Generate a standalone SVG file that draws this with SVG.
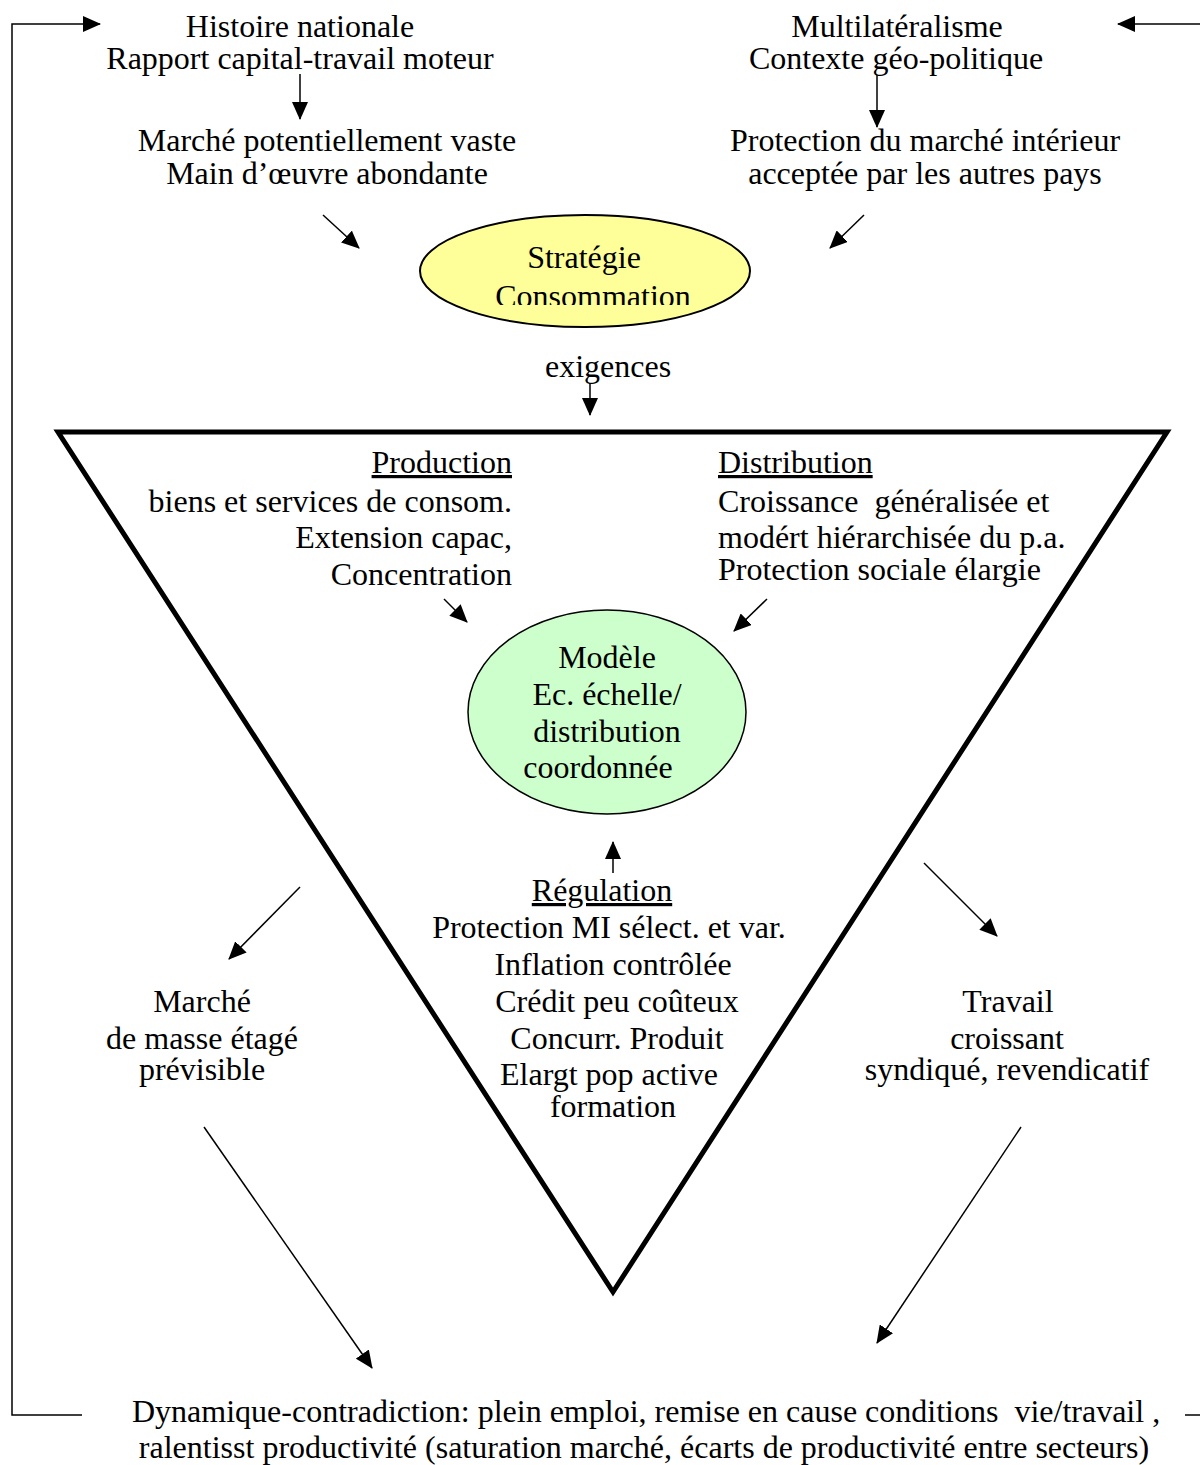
<svg xmlns="http://www.w3.org/2000/svg" width="1200" height="1465" viewBox="0 0 1200 1465">
<style>
text{font-family:"Liberation Serif","Times New Roman",serif;font-size:32px;fill:#000}
.c{text-anchor:middle}
.r{text-anchor:end}
.u{text-decoration:underline}
.ln{fill:none;stroke:#000;stroke-width:1.5}
.ar{fill:none;stroke:#000;stroke-width:1.5;marker-end:url(#ah)}
</style>
<defs>
<marker id="ah" markerUnits="userSpaceOnUse" viewBox="0 0 18 16" markerWidth="18" markerHeight="16" refX="17" refY="8" orient="auto">
<path d="M0,0 L18,8 L0,16 z" fill="#000"/>
</marker>
<clipPath id="clipY"><rect x="420" y="210" width="332" height="95"/></clipPath>
</defs>
<rect width="1200" height="1465" fill="#fff"/>

<g id="triangle">
<polygon points="58,432 1167,432 613,1292" fill="none" stroke="#000" stroke-width="5" stroke-linejoin="miter"/>
</g>

<g id="histoire">
<text class="c" x="300" y="37">Histoire nationale</text>
<text class="c" x="300" y="69">Rapport capital-travail moteur</text>
</g>
<g id="marche-potentiel">
<text class="c" x="327" y="151">Marché potentiellement vaste</text>
<text class="c" x="327" y="184">Main d’œuvre abondante</text>
</g>
<g id="multilateralisme">
<text class="c" x="897" y="37">Multilatéralisme</text>
<text class="c" x="896" y="69">Contexte géo-politique</text>
</g>
<g id="protection-marche">
<text class="c" x="925" y="151">Protection du marché intérieur</text>
<text class="c" x="925" y="184">acceptée par les autres pays</text>
</g>
<g id="strategie">
<ellipse cx="585" cy="271" rx="165" ry="56" fill="#FFFF99" stroke="#000" stroke-width="2"/>
<g clip-path="url(#clipY)">
<text class="c" x="584" y="268">Stratégie</text>
<text class="c" x="593" y="307">Consommation</text>
</g>
</g>
<g id="exigences">
<text class="c" x="608" y="377">exigences</text>
</g>
<g id="production">
<text class="r u" x="512" y="473">Production</text>
<text class="r" x="512" y="512">biens et services de consom.</text>
<text class="r" x="512" y="548">Extension capac,</text>
<text class="r" x="512" y="585">Concentration</text>
</g>
<g id="distribution">
<text x="718" y="473" class="u">Distribution</text>
<text x="718" y="512" xml:space="preserve">Croissance  généralisée et</text>
<text x="718" y="548">modért hiérarchisée du p.a.</text>
<text x="718" y="580">Protection sociale élargie</text>
</g>
<g id="modele">
<ellipse cx="607" cy="712" rx="139" ry="102" fill="#CCFFCC" stroke="#000" stroke-width="1.5"/>
<text class="c" x="607" y="668">Modèle</text>
<text class="c" x="607" y="705">Ec. échelle/</text>
<text class="c" x="607" y="742">distribution</text>
<text class="c" x="598" y="778">coordonnée</text>
</g>
<g id="regulation">
<text class="c u" x="602" y="901">Régulation</text>
<text class="c" x="609" y="938">Protection MI sélect. et var.</text>
<text class="c" x="613" y="975">Inflation contrôlée</text>
<text class="c" x="617" y="1012">Crédit peu coûteux</text>
<text class="c" x="617" y="1049">Concurr. Produit</text>
<text class="c" x="609" y="1085">Elargt pop active</text>
<text class="c" x="613" y="1117">formation</text>
</g>
<g id="marche-masse">
<text class="c" x="202" y="1012">Marché</text>
<text class="c" x="202" y="1049">de masse étagé</text>
<text class="c" x="202" y="1080">prévisible</text>
</g>
<g id="travail">
<text class="c" x="1008" y="1012">Travail</text>
<text class="c" x="1007" y="1049">croissant</text>
<text class="c" x="1007" y="1080">syndiqué, revendicatif</text>
</g>
<g id="dynamique">
<text x="132" y="1422" xml:space="preserve">Dynamique-contradiction: plein emploi, remise en cause conditions  vie/travail ,</text>
<text class="c" x="644" y="1458">ralentisst productivité (saturation marché, écarts de productivité entre secteurs)</text>
</g>

<g id="connectors">
<path class="ar" d="M300,74 L300,119"/>
<path class="ar" d="M877,75 L877,127"/>
<path class="ar" d="M323,215 L359,248"/>
<path class="ar" d="M864,215 L830,248"/>
<path class="ar" d="M590,383 L590,415"/>
<path class="ar" d="M444,599 L467,622"/>
<path class="ar" d="M767,599 L734,631"/>
<path class="ar" d="M613,873 L613,842"/>
<path class="ar" d="M300,887 L229,959"/>
<path class="ar" d="M924,863 L997,936"/>
<path class="ar" d="M204,1127 L372,1368"/>
<path class="ar" d="M1021,1127 L877,1343"/>
<path class="ar" d="M82,1415 L12,1415 L12,24 L100,24"/>
<path class="ar" d="M1200,24 L1118,24"/>
<path class="ln" d="M1185,1415 L1200,1415"/>
</g>
</svg>
